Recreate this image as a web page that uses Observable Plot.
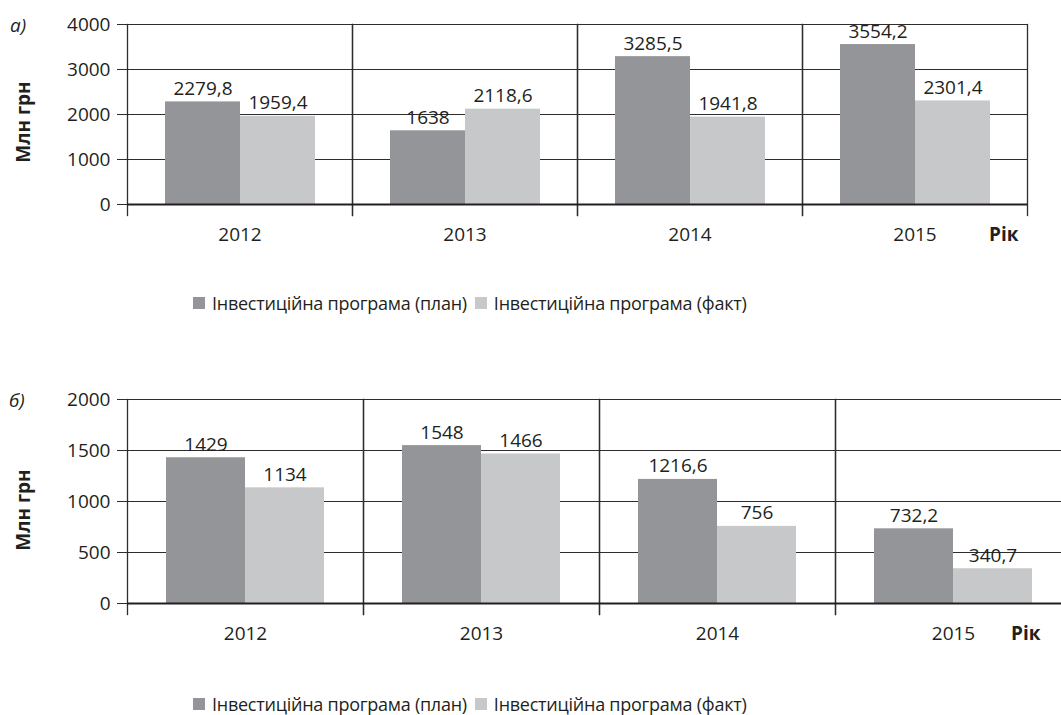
<!DOCTYPE html>
<html>
<head>
<meta charset="utf-8">
<script src="https://cdn.jsdelivr.net/npm/d3@7"></script>
<script src="https://cdn.jsdelivr.net/npm/@observablehq/plot@0.6"></script>
<style>
  html, body { margin: 0; padding: 0; background: #fff; width: 1061px; height: 715px; overflow: hidden; }
  body { position: relative; font-family: "Open Sans", sans-serif; color: #231f20; }
  .panel { position: absolute; left: 0; }
  .panel svg { max-width: none !important; }
  .tag { position: absolute; font-style: italic; font-size: 19px; line-height: 1; }
  .ylab { position: absolute; font-weight: bold; font-size: 19px; line-height: 1; white-space: nowrap;
          transform: translate(-50%, -50%) rotate(-90deg); }
  .legend { position: absolute; display: flex; align-items: center; font-size: 18px; letter-spacing: -0.25px; line-height: 1; white-space: nowrap; }
  .legend .sw { width: 12px; height: 12px; display: inline-block; margin-right: 7px; }
  .legend .item { display: flex; align-items: center; margin-right: 8px; }
</style>
</head>
<body>
<div id="chartA" class="panel" style="top:0"></div>
<div id="chartB" class="panel" style="top:375px"></div>
<div class="tag" style="left:10px; top:16px">а)</div>
<div class="tag" style="left:9px; top:391px">б)</div>
<div class="ylab" style="left:23px; top:122px">Млн грн</div>
<div class="ylab" style="left:23px; top:510px">Млн грн</div>
<div id="legendA" class="legend" style="left:193px; top:294px"></div>
<div id="legendB" class="legend" style="left:193px; top:695px"></div>
<script>
const years = ["2012", "2013", "2014", "2015"];
const seriesNames = ["Інвестиційна програма (план)", "Інвестиційна програма (факт)"];
const planA = [2279.8, 1638, 3285.5, 3554.2];
const factA = [1959.4, 2118.6, 1941.8, 2301.4];
const planB = [1429, 1548, 1216.6, 732.2];
const factB = [1134, 1466, 756, 340.7];
const yTicksA = [0, 1000, 2000, 3000, 4000];
const yTicksB = [0, 500, 1000, 1500, 2000];
const axisTitle = "Рік";
const colors = ["#939598", "#c7c8ca"];

const fmt = v => String(v).replace(".", ",");
const rows = (plan, fact) => years.flatMap((yr, i) => [
  {year: yr, series: seriesNames[0], value: plan[i]},
  {year: yr, series: seriesNames[1], value: fact[i]}
]);

function chart({data, ticks, width, height, plotH, marginRight, rikDx}) {
  const line = "#2e2c2d";
  return Plot.plot({
    width, height,
    marginLeft: 126, marginRight, marginTop: 24, marginBottom: height - 24 - plotH,
    style: {fontFamily: "Open Sans", fontSize: "19px", color: "#231f20", background: "#fff", overflow: "visible", maxWidth: "none"},
    fx: {domain: years, padding: 0, label: null, axis: null},
    x: {domain: seriesNames, paddingInner: 0, paddingOuter: 0.49, axis: null},
    y: {domain: [ticks[0], ticks[ticks.length - 1]], label: null},
    color: {domain: seriesNames, range: colors},
    marks: [
      Plot.gridY(ticks, {stroke: line, strokeOpacity: 1, strokeWidth: 1}),
      Plot.axisY(ticks, {tickSize: 10, tickPadding: 7, label: null, stroke: line, tickFormat: d => String(d)}),
      Plot.axisFx({anchor: "bottom", tickSize: 0, tickPadding: 23, label: null}),
      Plot.barY(data, {fx: "year", x: "series", y: "value", fill: "series"}),
      Plot.frame({stroke: line, strokeWidth: 1}),
      Plot.frame({anchor: "left", stroke: line, strokeWidth: 1.3, insetBottom: -11}),
      Plot.frame({anchor: "right", stroke: line, strokeWidth: 1.3, insetBottom: -11}),
      Plot.ruleY([0], {stroke: "#231f20", strokeWidth: 1.8}),
      Plot.text(data, {fx: "year", x: "series", y: "value", text: d => fmt(d.value),
        lineAnchor: "bottom", dy: -7, fill: "#231f20"}),
      Plot.text([axisTitle], {fx: () => years[years.length - 1], frameAnchor: "bottom-right",
        textAnchor: "end", lineAnchor: "top", dy: 23, dx: rikDx, fontWeight: "bold", fill: "#231f20"})
    ]
  });
}

document.getElementById("chartA").append(chart({
  data: rows(planA, factA), ticks: yTicksA, width: 1061, height: 250, plotH: 180, marginRight: 34, rikDx: -9
}));
document.getElementById("chartB").append(chart({
  data: rows(planB, factB), ticks: yTicksB, width: 1080, height: 274, plotH: 204, marginRight: 9, rikDx: -31
}));

for (const id of ["legendA", "legendB"]) {
  const el = document.getElementById(id);
  seriesNames.forEach((name, i) => {
    const item = document.createElement("span");
    item.className = "item";
    const sw = document.createElement("span");
    sw.className = "sw";
    sw.style.background = colors[i];
    item.append(sw, document.createTextNode(name));
    el.append(item);
  });
}
</script>
</body>
</html>
